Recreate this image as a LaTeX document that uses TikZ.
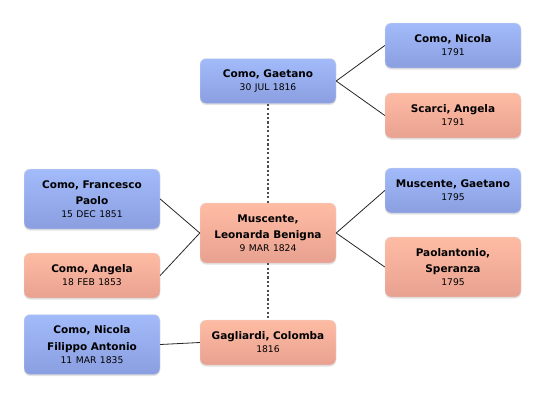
\documentclass[tikz,border=0pt]{standalone}
\usepackage{fontspec}
\setmainfont{DejaVu Sans}
\usepackage{tikz}
\usetikzlibrary{shadows, positioning}
\definecolor{maletop}{HTML}{A3BBFA}
\definecolor{malebot}{HTML}{8A9EE0}
\definecolor{femtop}{HTML}{FFBCA4}
\definecolor{fembot}{HTML}{E8A190}
\tikzstyle{person} = [rectangle,
rounded corners=6pt,
minimum width=136pt,
minimum height=45pt,
text width=130pt,
inner sep=0pt,
align=center,
font=\fontsize{10.5}{16.5}\selectfont,
draw=black!12,
drop shadow={shadow xshift=0pt, shadow yshift=-1.5pt, opacity=0.22}]
\tikzstyle{male} = [person, top color=maletop, bottom color=malebot]
\tikzstyle{female} = [person, top color=femtop, bottom color=fembot]
\tikzstyle{tall} = [minimum height=60pt]
\tikzstyle{link} = [draw=black!85, line width=0.8pt]
\tikzstyle{spouse} = [draw=black!70, line width=1.6pt, dash pattern=on 2.2pt off 2.2pt]
\newcommand{\who}[1]{{\bfseries #1}}
\newcommand{\when}[1]{{\fontsize{9.2}{10}\selectfont #1}}

\begin{document}
\begin{tikzpicture}[x=1pt, y=-1pt]
            \useasboundingbox (0,0) rectangle (546,400);
            % grandparents
            \node (nicola) [male] at (453,45.5) {\who{Como, Nicola}\\[-3.5pt]\when{1791}};
            \node (scarci) [female] at (453,115.5) {\who{Scarci, Angela}\\[-3.5pt]\when{1791}};
            \node (mgaetano) [male] at (453,190.5) {\who{Muscente, Gaetano}\\[-3.5pt]\when{1795}};
            \node (speranza) [female, tall] at (453,267) {\who{Paolantonio,\\Speranza}\\[-3.5pt]\when{1795}};
            % parents
            \node (gaetano) [male] at (268,81) {\who{Como, Gaetano}\\[-3.5pt]\when{30 JUL 1816}};
            \node (leonarda) [female, tall] at (268,233) {\who{Muscente,\\Leonarda Benigna}\\[-3.5pt]\when{9 MAR 1824}};
            \node (colomba) [female] at (268,342.5) {\who{Gagliardi, Colomba}\\[-3.5pt]\when{1816}};
            % children
            \node (francesco) [male, tall] at (92,199) {\who{Como, Francesco\\Paolo}\\[-3.5pt]\when{15 DEC 1851}};
            \node (angela) [female] at (92,275.5) {\who{Como, Angela}\\[-3.5pt]\when{18 FEB 1853}};
            \node (filippo) [male, tall] at (92,344.5) {\who{Como, Nicola\\Filippo Antonio}\\[-3.5pt]\when{11 MAR 1835}};

            \draw [link] (gaetano.east) -- (nicola.west);
            \draw [link] (gaetano.east) -- (scarci.west);
            \draw [link] (leonarda.east) -- (mgaetano.west);
            \draw [link] (leonarda.east) -- (speranza.west);
            \draw [link] (francesco.east) -- (leonarda.west);
            \draw [link] (angela.east) -- (leonarda.west);
            \draw [link] (filippo.east) -- (colomba.west);
            \draw [spouse] (gaetano.south) -- (leonarda.north);
            \draw [spouse] (leonarda.south) -- (colomba.north);
        \end{tikzpicture}
\end{document}
